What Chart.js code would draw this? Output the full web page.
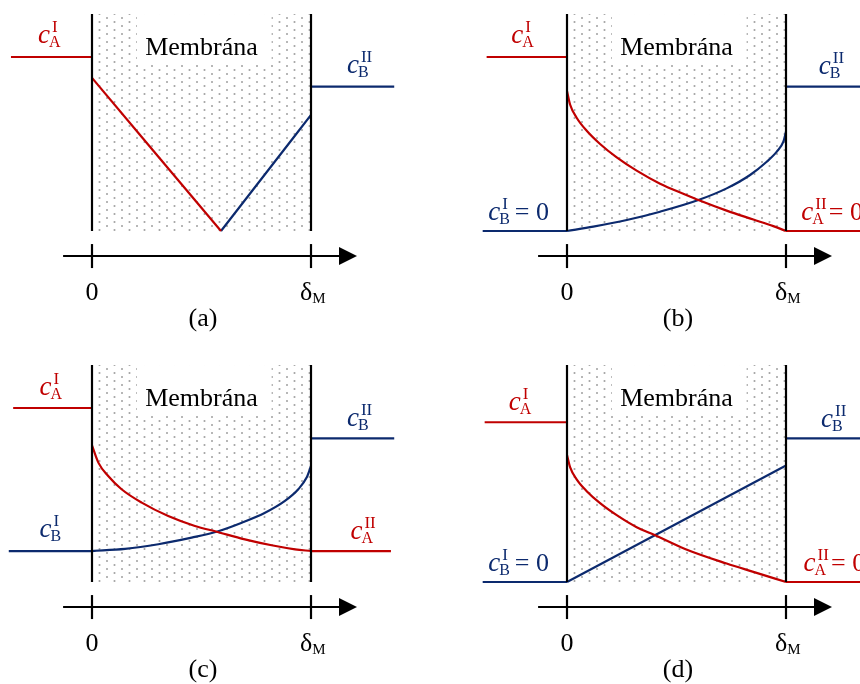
<!DOCTYPE html>
<html>
<head>
<meta charset="utf-8">
<script src="https://cdn.jsdelivr.net/npm/chart.js@4.4.1/dist/chart.umd.min.js"></script>
<style>
    body { margin: 0; background: #fff; overflow: hidden; }
    #wrap { position: relative; width: 860px; height: 684px; overflow: hidden; }
    #wrap canvas { position: absolute; }
</style>
</head>
<body>
<div id="wrap">
    <canvas id="pa" width="475" height="351" style="left:0;top:0"></canvas>
    <canvas id="pb" width="475" height="351" style="left:475px;top:0"></canvas>
    <canvas id="pc" width="475" height="351" style="left:0;top:351px"></canvas>
    <canvas id="pd" width="475" height="351" style="left:475px;top:351px"></canvas>
</div>
<script>
// --- Data ---
// x: 0 = membrane face I, 1 = membrane face II (δM); y: concentration (cA in phase I = 1)
const panelNames = ['(a)', '(b)', '(c)', '(d)'];
const tickValues = [0, 1];
const tickLabels = ['0', 'δ'];
const tickSubs = ['', 'M'];

// bulk phase levels
const caI = [1.0, 1.0, 1.0, 0.918];
const cbII = [0.83, 0.83, 0.826, 0.826];
const cbI = [null, 0, 0.178, 0];
const caII = [null, 0, 0.178, 0];

// extents of the bulk lines (left start, right end)
const leftStartA = [-0.37, -0.367, -0.36, -0.376];
const leftStartB = [null, -0.385, -0.38, -0.385];
const rightEndB = [1.38, 1.45, 1.38, 1.45];
const rightEndA = [null, 1.45, 1.365, 1.45];

// profiles inside the membrane
const aRedX = [0, 0.589];
const aRedY = [0.88, 0];
const aBlueX = [0.589, 1];
const aBlueY = [0, 0.667];

const bRedX = [0, 0.014, 0.044, 0.09, 0.151, 0.227, 0.318, 0.425, 0.539, 0.6, 0.729, 0.851, 0.942, 1];
const bRedY = [0.805, 0.727, 0.651, 0.576, 0.5, 0.423, 0.347, 0.272, 0.21, 0.178, 0.117, 0.066, 0.028, 0];
const bBlueX = [0, 0.12, 0.273, 0.425, 0.6, 0.729, 0.836, 0.912, 0.958, 0.988, 1];
const bBlueY = [0, 0.025, 0.063, 0.111, 0.178, 0.245, 0.322, 0.398, 0.456, 0.513, 0.571];

const cRedX = [0, 0.029, 0.074, 0.135, 0.227, 0.348, 0.47, 0.569, 0.698, 0.82, 0.927, 1];
const cRedY = [0.785, 0.686, 0.609, 0.533, 0.456, 0.379, 0.322, 0.289, 0.245, 0.211, 0.188, 0.178];
const cBlueX = [0, 0.151, 0.303, 0.455, 0.569, 0.684, 0.79, 0.881, 0.942, 0.98, 1];
const cBlueY = [0.178, 0.19, 0.217, 0.255, 0.289, 0.341, 0.398, 0.466, 0.533, 0.6, 0.667];

const dRedX = [0, 0.014, 0.044, 0.09, 0.151, 0.227, 0.318, 0.4, 0.539, 0.729, 0.851, 1];
const dRedY = [0.73, 0.66, 0.59, 0.522, 0.453, 0.384, 0.315, 0.27, 0.19, 0.106, 0.058, 0];
const dBlueX = [0, 1];
const dBlueY = [0, 0.67];

// concentration labels: [x, y] of the italic c baseline, text parts
const labelsA = [
    { x: -0.247, y: 1.08, sub: 'A', sup: 'I', eq: false, red: true },
    { x: 1.164, y: 0.908, sub: 'B', sup: 'II', eq: false, red: false }
];
const labelsB = [
    { x: -0.254, y: 1.08, sub: 'A', sup: 'I', eq: false, red: true },
    { x: 1.15, y: 0.90, sub: 'B', sup: 'II', eq: false, red: false },
    { x: -0.36, y: 0.063, sub: 'B', sup: 'I', eq: true, red: false },
    { x: 1.07, y: 0.063, sub: 'A', sup: 'II', eq: true, red: true }
];
const labelsC = [
    { x: -0.24, y: 1.075, sub: 'A', sup: 'I', eq: false, red: true },
    { x: 1.164, y: 0.897, sub: 'B', sup: 'II', eq: false, red: false },
    { x: -0.24, y: 0.257, sub: 'B', sup: 'I', eq: false, red: false },
    { x: 1.18, y: 0.25, sub: 'A', sup: 'II', eq: false, red: true }
];
const labelsD = [
    { x: -0.266, y: 0.99, sub: 'A', sup: 'I', eq: false, red: true },
    { x: 1.16, y: 0.89, sub: 'B', sup: 'II', eq: false, red: false },
    { x: -0.36, y: 0.065, sub: 'B', sup: 'I', eq: true, red: false },
    { x: 1.08, y: 0.065, sub: 'A', sup: 'II', eq: true, red: true }
];

// --- Style / layout ---
const RED = '#c00000';
const BLUE = '#0c2a6e';
const SERIF = '"Liberation Serif", "DejaVu Serif", serif';
const X_MIN = -92 / 219, X_MAX = (475 - 92) / 219;
const Y_MIN = -120 / 174, Y_MAX = 231 / 174;
const MEM_TOP = 1.247;
const AXIS_Y = -0.144;
const AXIS_FROM = -0.132, AXIS_TO = 1.21;
const TICK_LABEL_Y = -0.397;
const PANEL_LABEL_Y = -0.546;

function pts(xs, ys) {
    return xs.map((x, i) => ({ x: x, y: ys[i] }));
}

function dotPattern(ctx) {
    const t = document.createElement('canvas');
    t.width = 15;
    t.height = 8;
    const c = t.getContext('2d');
    c.fillStyle = '#c4c4c4';
    c.fillRect(1, 1, 2, 2);
    c.fillRect(8.5, 5, 2, 2);
    c.fillStyle = '#8e8e8e';
    c.fillRect(1.5, 1.5, 1, 1);
    c.fillRect(9, 5.5, 1, 1);
    return ctx.createPattern(t, 'repeat');
}

function drawConc(ctx, px, py, lab) {
    ctx.fillStyle = lab.red ? RED : BLUE;
    ctx.textAlign = 'left';
    ctx.textBaseline = 'alphabetic';
    ctx.font = 'italic 27px ' + SERIF;
    ctx.fillText('c', px, py);
    const w = ctx.measureText('c').width;
    ctx.font = '16px ' + SERIF;
    ctx.fillText(lab.sub, px + w - 1, py + 4);
    const sw = ctx.measureText(lab.sub).width;
    ctx.font = '17px ' + SERIF;
    ctx.fillText(lab.sup, px + w + 2, py - 11);
    if (lab.eq) {
        ctx.font = '26px ' + SERIF;
        ctx.fillText('= 0', px + w + sw + 4, py);
    }
}

const membranePlugin = {
    id: 'membrane',
    beforeDatasetsDraw(chart) {
        const { ctx, scales: { x, y } } = chart;
        const x0 = x.getPixelForValue(0), x1 = x.getPixelForValue(1);
        const yb = y.getPixelForValue(0), yt = y.getPixelForValue(MEM_TOP);
        ctx.save();
        ctx.fillStyle = dotPattern(ctx);
        ctx.fillRect(x0, yt, x1 - x0, yb - yt);
        // white box behind the title
        ctx.fillStyle = '#fff';
        const bx0 = x.getPixelForValue(0.205), bx1 = x.getPixelForValue(0.82);
        const by1 = y.getPixelForValue(0.954);
        ctx.fillRect(bx0, yt, bx1 - bx0, by1 - yt);
        ctx.fillStyle = '#000';
        ctx.font = '26px ' + SERIF;
        ctx.textAlign = 'center';
        ctx.textBaseline = 'alphabetic';
        ctx.fillText('Membrána', x.getPixelForValue(0.5), y.getPixelForValue(1.01));
        ctx.restore();
    },
    afterDatasetsDraw(chart, args, opts) {
        const { ctx, scales: { x, y } } = chart;
        const yb = y.getPixelForValue(0), yt = y.getPixelForValue(MEM_TOP);
        ctx.save();
        ctx.strokeStyle = '#000';
        ctx.fillStyle = '#000';
        ctx.lineWidth = 2.2;
        // membrane faces
        tickValues.forEach(v => {
            const px = x.getPixelForValue(v);
            ctx.beginPath();
            ctx.moveTo(px, yt);
            ctx.lineTo(px, yb);
            ctx.stroke();
        });
        // axis with arrow
        const ay = y.getPixelForValue(AXIS_Y);
        const ax0 = x.getPixelForValue(AXIS_FROM), ax1 = x.getPixelForValue(AXIS_TO);
        ctx.lineWidth = 2;
        ctx.beginPath();
        ctx.moveTo(ax0, ay);
        ctx.lineTo(ax1 - 16, ay);
        ctx.stroke();
        ctx.beginPath();
        ctx.moveTo(ax1, ay);
        ctx.lineTo(ax1 - 18, ay - 9);
        ctx.lineTo(ax1 - 18, ay + 9);
        ctx.closePath();
        ctx.fill();
        // ticks and tick labels
        const ly = y.getPixelForValue(TICK_LABEL_Y);
        tickValues.forEach((v, i) => {
            const px = x.getPixelForValue(v);
            ctx.lineWidth = 2.2;
            ctx.beginPath();
            ctx.moveTo(px, ay - 12);
            ctx.lineTo(px, ay + 12);
            ctx.stroke();
            ctx.font = '26px ' + SERIF;
            ctx.textBaseline = 'alphabetic';
            if (tickSubs[i]) {
                ctx.textAlign = 'left';
                const w = ctx.measureText(tickLabels[i]).width;
                ctx.fillText(tickLabels[i], px - 11, ly);
                ctx.font = '15px ' + SERIF;
                ctx.fillText(tickSubs[i], px - 11 + w, ly + 3);
            } else {
                ctx.textAlign = 'center';
                ctx.fillText(tickLabels[i], px, ly);
            }
        });
        // panel caption
        ctx.font = '26px ' + SERIF;
        ctx.textAlign = 'center';
        ctx.fillText(opts.caption, x.getPixelForValue(0.507), y.getPixelForValue(PANEL_LABEL_Y));
        // concentration labels
        opts.labels.forEach(lab => {
            drawConc(ctx, x.getPixelForValue(lab.x), y.getPixelForValue(lab.y), lab);
        });
        ctx.restore();
    }
};

function bulkSets(i) {
    const sets = [
        { data: pts([leftStartA[i], 0], [caI[i], caI[i]]), borderColor: RED },
        { data: pts([1, rightEndB[i]], [cbII[i], cbII[i]]), borderColor: BLUE }
    ];
    if (cbI[i] !== null) {
        sets.push({ data: pts([leftStartB[i], 0], [cbI[i], cbI[i]]), borderColor: BLUE });
        sets.push({ data: pts([1, rightEndA[i]], [caII[i], caII[i]]), borderColor: RED });
    }
    return sets;
}

function makePanel(id, i, profiles, labels) {
    const datasets = bulkSets(i).concat(profiles).map(d => Object.assign({
        showLine: true,
        fill: false,
        borderWidth: 2.2,
        pointRadius: 0,
        cubicInterpolationMode: 'monotone'
    }, d));
    return new Chart(document.getElementById(id).getContext('2d'), {
        type: 'scatter',
        data: { datasets: datasets },
        options: {
            responsive: false,
            animation: false,
            devicePixelRatio: 1,
            layout: { padding: 0, autoPadding: false },
            plugins: {
                legend: { display: false },
                tooltip: { enabled: false },
                membrane: { caption: panelNames[i], labels: labels }
            },
            scales: {
                x: { type: 'linear', display: false, min: X_MIN, max: X_MAX },
                y: { type: 'linear', display: false, min: Y_MIN, max: Y_MAX }
            }
        },
        plugins: [membranePlugin]
    });
}

makePanel('pa', 0, [
    { data: pts(aRedX, aRedY), borderColor: RED },
    { data: pts(aBlueX, aBlueY), borderColor: BLUE }
], labelsA);
makePanel('pb', 1, [
    { data: pts(bRedX, bRedY), borderColor: RED },
    { data: pts(bBlueX, bBlueY), borderColor: BLUE }
], labelsB);
makePanel('pc', 2, [
    { data: pts(cRedX, cRedY), borderColor: RED },
    { data: pts(cBlueX, cBlueY), borderColor: BLUE }
], labelsC);
makePanel('pd', 3, [
    { data: pts(dRedX, dRedY), borderColor: RED },
    { data: pts(dBlueX, dBlueY), borderColor: BLUE }
], labelsD);
</script>
</body>
</html>
